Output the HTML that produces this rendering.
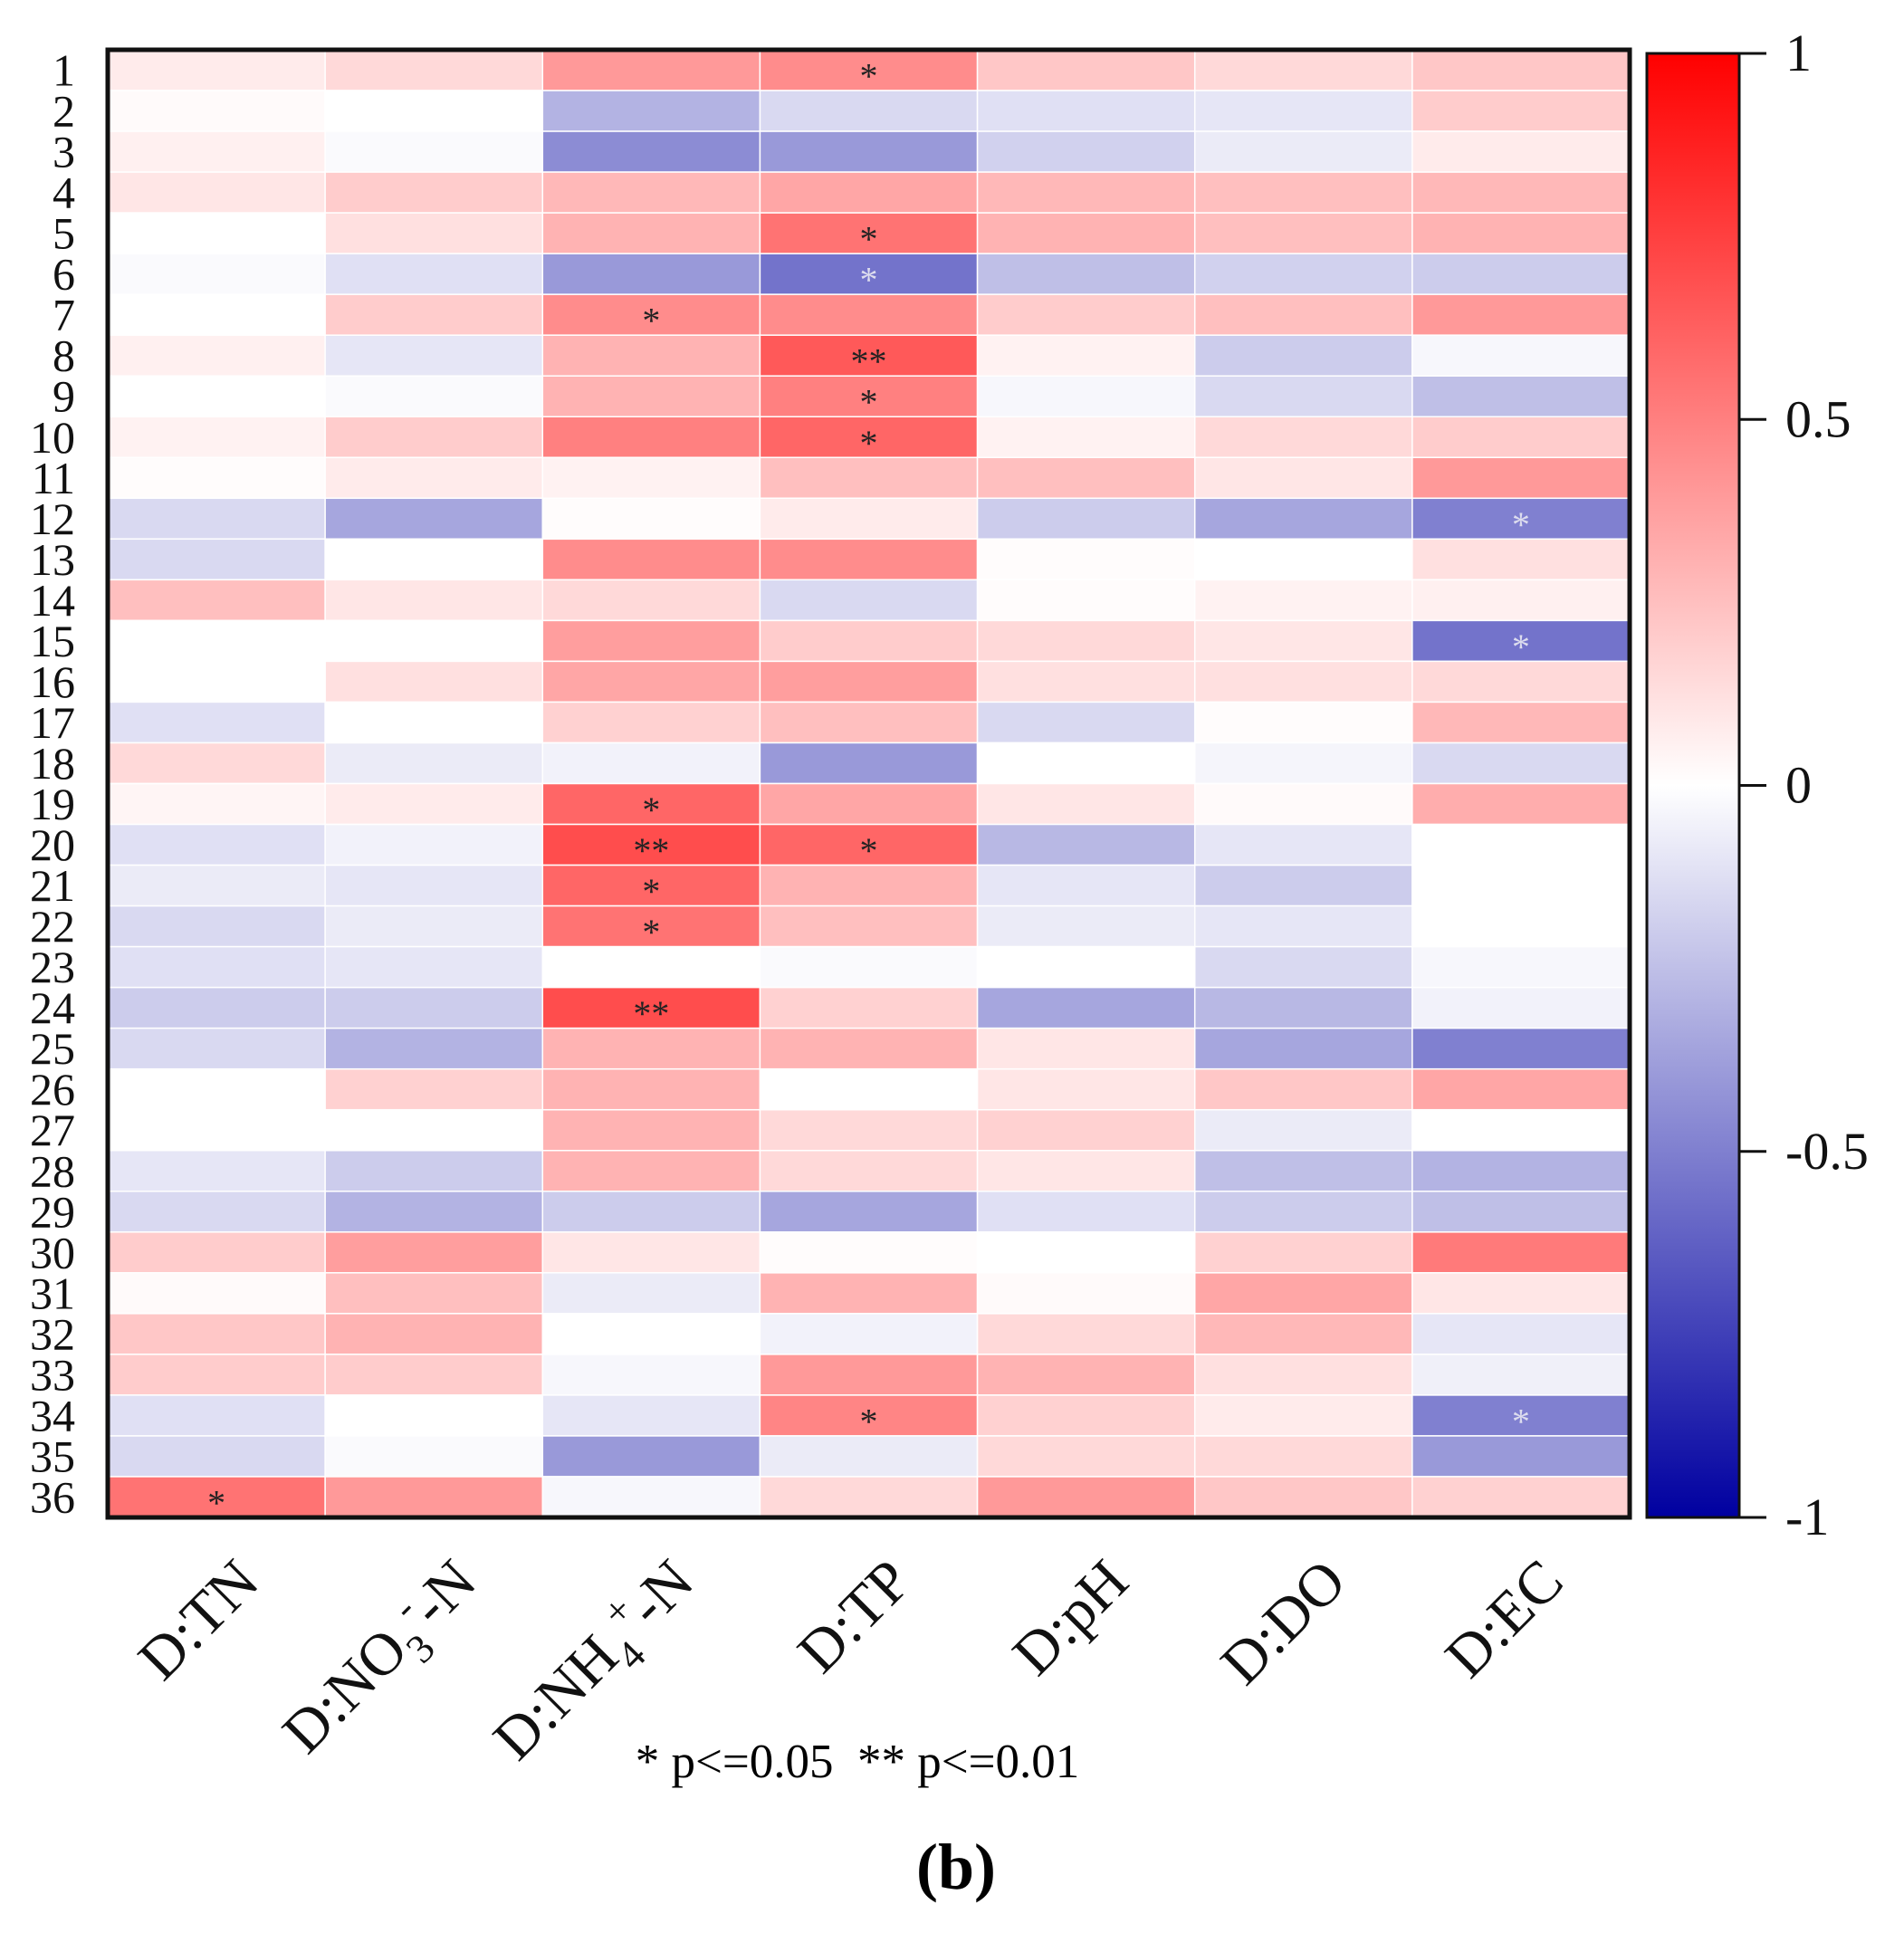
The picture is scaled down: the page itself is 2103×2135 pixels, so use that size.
<!DOCTYPE html>
<html><head><meta charset="utf-8"><style>
html,body{margin:0;padding:0;background:#fff;}
svg{display:block;font-family:"Liberation Serif",serif;}
</style></head><body>
<svg id="chart" width="2103" height="2135" viewBox="0 0 2103 2135">
<defs>
<linearGradient id="cbg" x1="0" y1="1" x2="0" y2="0">
<stop offset="0" stop-color="rgb(0,0,160)"/>
<stop offset="0.5" stop-color="rgb(255,255,255)"/>
<stop offset="1" stop-color="rgb(255,0,0)"/>
</linearGradient>
</defs>
<g id="cells"></g>
<g id="marks"></g>
<rect x="119" y="55" width="1681" height="1621" fill="none" stroke="#111" stroke-width="5"/>
<g id="rowlabels"></g>
<g id="collabels"></g>
<rect x="1819" y="59" width="102" height="1617" fill="url(#cbg)" stroke="#111" stroke-width="3"/>
<g id="cbticks"></g>
<text x="947" y="1963" font-size="53" text-anchor="middle">* p&lt;=0.05 &#160;** p&lt;=0.01</text>
<text x="1056" y="2086" font-size="72" font-weight="bold" text-anchor="middle">(b)</text>
</svg>
<script>
const columns = ["D:TN","D:NO3-N","D:NH4-N","D:TP","D:pH","D:DO","D:EC"];
const rows = Array.from({length:36},(_,i)=>String(i+1));
const values = [
[0.08,0.15,0.4,0.45,0.22,0.15,0.22],
[0.02,0,-0.3,-0.15,-0.12,-0.1,0.2],
[0.06,-0.02,-0.45,-0.4,-0.18,-0.08,0.08],
[0.1,0.2,0.28,0.35,0.28,0.25,0.28],
[0,0.12,0.3,0.55,0.3,0.25,0.3],
[-0.02,-0.12,-0.4,-0.55,-0.25,-0.18,-0.2],
[0,0.2,0.45,0.45,0.2,0.25,0.4],
[0.06,-0.1,0.3,0.65,0.05,-0.2,-0.03],
[0,-0.02,0.3,0.5,-0.03,-0.15,-0.25],
[0.05,0.2,0.5,0.6,0.05,0.15,0.2],
[0.01,0.08,0.05,0.25,0.25,0.1,0.4],
[-0.15,-0.35,0.01,0.08,-0.2,-0.35,-0.5],
[-0.15,0,0.45,0.45,0.01,0,0.12],
[0.25,0.1,0.15,-0.15,0.01,0.05,0.06],
[0,0,0.38,0.2,0.15,0.1,-0.55],
[0,0.12,0.35,0.38,0.12,0.12,0.15],
[-0.12,0,0.18,0.25,-0.15,0.01,0.28],
[0.15,-0.08,-0.05,-0.4,0,-0.04,-0.15],
[0.04,0.08,0.6,0.35,0.1,0.02,0.32],
[-0.12,-0.05,0.7,0.6,-0.28,-0.1,0],
[-0.08,-0.1,0.6,0.3,-0.1,-0.2,0],
[-0.15,-0.08,0.55,0.25,-0.08,-0.1,0],
[-0.12,-0.1,0,-0.02,0,-0.15,-0.03],
[-0.2,-0.2,0.7,0.18,-0.35,-0.28,-0.05],
[-0.15,-0.3,0.3,0.3,0.1,-0.35,-0.5],
[0,0.18,0.3,0,0.1,0.22,0.35],
[0,0,0.3,0.15,0.18,-0.08,0],
[-0.1,-0.2,0.3,0.15,0.1,-0.25,-0.3],
[-0.15,-0.3,-0.2,-0.35,-0.12,-0.2,-0.25],
[0.2,0.38,0.1,0.01,0,0.18,0.52],
[0.02,0.25,-0.08,0.3,0.02,0.35,0.1],
[0.22,0.3,0,-0.05,0.15,0.28,-0.1],
[0.2,0.2,-0.03,0.4,0.3,0.12,-0.06],
[-0.12,0,-0.1,0.48,0.18,0.08,-0.5],
[-0.15,-0.02,-0.4,-0.08,0.15,0.15,-0.4],
[0.55,0.4,-0.03,0.15,0.4,0.22,0.18]
];
// [row index, col index, label]
const marks = [[0,3,"*"],[4,3,"*"],[5,3,"*"],[6,2,"*"],[7,3,"**"],[8,3,"*"],[9,3,"*"],[11,6,"*"],[14,6,"*"],[18,2,"*"],[19,2,"**"],[19,3,"*"],[20,2,"*"],[21,2,"*"],[23,2,"**"],[33,3,"*"],[33,6,"*"],[35,0,"*"]];
const cbTicks = [1,0.5,0,-0.5,-1];
const cbTickLabels = ["1","0.5","0","-0.5","-1"];

const NS="http://www.w3.org/2000/svg";
const X0=119,Y0=55,W=1681,H=1621;
const cw=W/columns.length, rh=H/rows.length;
const xCol=i=>X0+i*cw, yRow=j=>Y0+j*rh;
const cbY=v=>59+(1-v)/2*1617;
function color(v){
  v=Math.max(-1,Math.min(1,v));
  if(v>=0){const g=Math.round(255*(1-v));return `rgb(255,${g},${g})`;}
  const t=-v;return `rgb(${Math.round(255*(1-t))},${Math.round(255*(1-t))},${Math.round(255-95*t)})`;
}
function mk(tag,attrs,parent){const e=document.createElementNS(NS,tag);for(const k in attrs)e.setAttribute(k,attrs[k]);parent.appendChild(e);return e;}
const cells=document.getElementById('cells');
values.forEach((row,j)=>row.forEach((v,i)=>{
  const r=mk('rect',{x:xCol(i),y:yRow(j),width:cw,height:rh,fill:color(v),stroke:'#fff','stroke-width':1.5},cells);
  
  
}));
const mg=document.getElementById('marks');
marks.forEach(([j,i,s])=>{
  const v=values[j][i];
  const t=mk('text',{x:xCol(i)+cw/2,y:yRow(j)+rh/2+20,'font-size':40,'text-anchor':'middle',fill:v<-0.4?'#dde':'#222'},mg);
  t.textContent=s;
  
  
});
const rl=document.getElementById('rowlabels');
rows.forEach((r,j)=>{
  const t=mk('text',{x:83,y:yRow(j)+rh/2+17,'font-size':50,'text-anchor':'end',fill:'#111'},rl);
  t.textContent=r;
  
  
});
const cl=document.getElementById('collabels');
const colHtml=["D:TN",'D:NO<tspan font-size="45" dy="19">3</tspan><tspan font-size="45" dy="-45">-</tspan><tspan dy="26">-N</tspan>','D:NH<tspan font-size="45" dy="19">4</tspan><tspan font-size="45" dy="-45">+</tspan><tspan dy="26">-N</tspan>',"D:TP","D:pH","D:DO","D:EC"];
columns.forEach((c,i)=>{
  const ax=xCol(i)+cw/2+50, ay=1750;
  const t=mk('text',{x:ax,y:ay,'font-size':66,'text-anchor':'end',fill:'#111',transform:`rotate(-45 ${ax} ${ay})`},cl);
  t.innerHTML=colHtml[i];
  
  
});
const cb=document.getElementById('cbticks');
cbTicks.forEach((v,k)=>{
  const y=cbY(v);
  const l=mk('line',{x1:1921,x2:1951,y1:y,y2:y,stroke:'#111','stroke-width':3},cb);
  
  
  const t=mk('text',{x:1972,y:y+19,'font-size':58,fill:'#111'},cb);
  t.textContent=cbTickLabels[k];
  
  
});
</script>
</body></html>
